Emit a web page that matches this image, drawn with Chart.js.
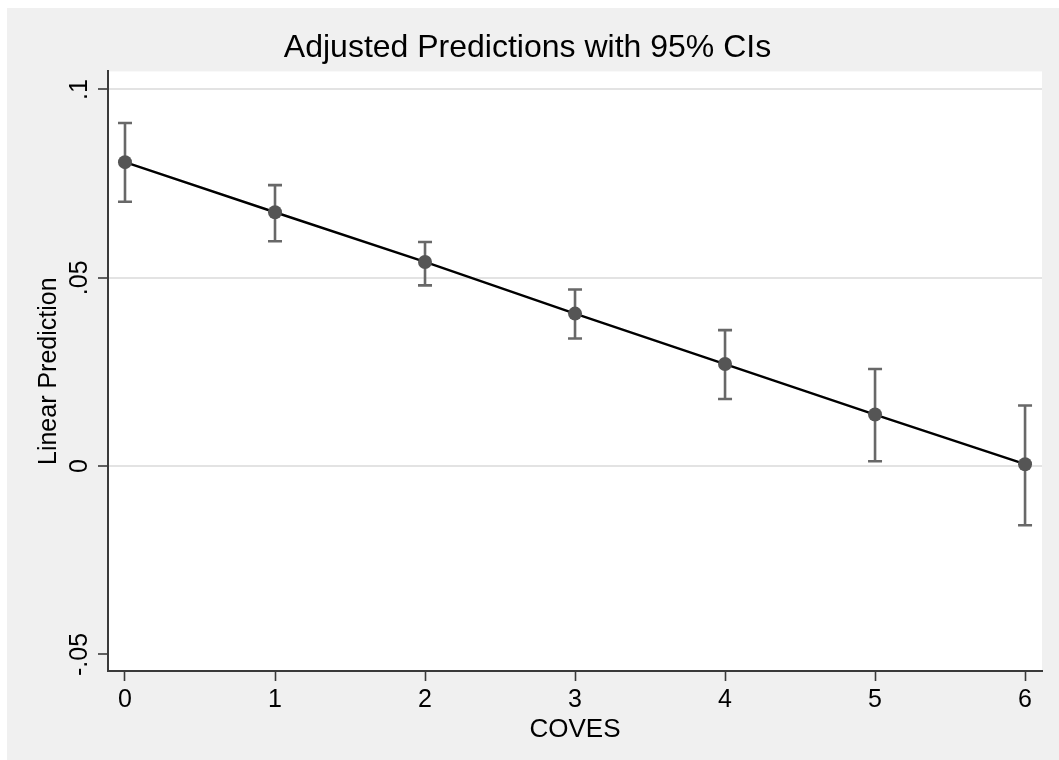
<!DOCTYPE html>
<html>
<head>
<meta charset="utf-8">
<script src="https://cdn.jsdelivr.net/npm/chart.js@4.4.1/dist/chart.umd.min.js"></script>
<style>
  html, body { margin: 0; padding: 0; background: #ffffff; }
  #wrap { width: 1059px; height: 760px; position: relative; }
</style>
</head>
<body>
<div id="wrap"><canvas id="c" width="1059" height="760"></canvas></div>
<script>
// ---- Data ----
const coves = [0, 1, 2, 3, 4, 5, 6];
const prediction = [0.0807, 0.0674, 0.0542, 0.0405, 0.0271, 0.0137, 0.0005];
const ciLower = [0.0702, 0.0597, 0.0480, 0.0339, 0.0178, 0.0013, -0.0157];
const ciUpper = [0.0911, 0.0746, 0.0595, 0.0469, 0.0361, 0.0258, 0.0161];
const xTickValues = [0, 1, 2, 3, 4, 5, 6];
const xTickLabels = ['0', '1', '2', '3', '4', '5', '6'];
const yTickValues = [-0.05, 0, 0.05, 0.1];
const yTickLabels = ['-.05', '0', '.05', '.1'];
const chartTitle = 'Adjusted Predictions with 95% CIs';
const xTitle = 'COVES';
const yTitle = 'Linear Prediction';

const FONT = '"Liberation Sans", Arial, Helvetica, sans-serif';
const AXIS_COLOR = '#3a3a3a';

const backgroundPlugin = {
  id: 'bg',
  beforeDraw(chart) {
    const ctx = chart.ctx;
    const a = chart.chartArea;
    ctx.save();
    ctx.fillStyle = '#ffffff';
    ctx.fillRect(0, 0, chart.width, chart.height);
    ctx.fillStyle = '#f0f0f0';
    ctx.fillRect(7, 8, chart.width - 7, chart.height - 8);
    ctx.fillStyle = '#ffffff';
    ctx.fillRect(a.left, a.top, a.right - a.left, a.bottom - a.top);
    ctx.restore();
  }
};

const errorBarPlugin = {
  id: 'errorBars',
  beforeDatasetsDraw(chart) {
    const ctx = chart.ctx;
    const xs = chart.scales.x, ys = chart.scales.y;
    ctx.save();
    ctx.strokeStyle = '#686868';
    ctx.lineWidth = 2.6;
    const capHalf = 7;
    for (let i = 0; i < coves.length; i++) {
      const px = xs.getPixelForValue(coves[i]);
      const pl = ys.getPixelForValue(ciLower[i]);
      const pu = ys.getPixelForValue(ciUpper[i]);
      ctx.beginPath();
      ctx.moveTo(px, pl); ctx.lineTo(px, pu);
      ctx.moveTo(px - capHalf, pl); ctx.lineTo(px + capHalf, pl);
      ctx.moveTo(px - capHalf, pu); ctx.lineTo(px + capHalf, pu);
      ctx.stroke();
    }
    ctx.restore();
  }
};

new Chart(document.getElementById('c'), {
  type: 'line',
  data: {
    datasets: [{
      label: 'Linear Prediction',
      data: coves.map((c, i) => ({ x: c, y: prediction[i] })),
      borderColor: '#000000',
      borderWidth: 2.4,
      pointRadius: 7,
      pointBackgroundColor: '#555555',
      pointBorderColor: '#555555',
      pointBorderWidth: 0,
      tension: 0,
      fill: false
    }]
  },
  options: {
    responsive: false,
    animation: false,
    devicePixelRatio: 1,
    layout: { padding: { left: 13, right: 17, top: 0, bottom: 0 } },
    plugins: {
      legend: { display: false },
      tooltip: { enabled: false },
      title: {
        display: true,
        text: chartTitle,
        color: '#000000',
        font: { family: FONT, size: 32, weight: 'normal', lineHeight: 1.2 },
        padding: { top: 29, bottom: 4 }
      }
    },
    scales: {
      x: {
        type: 'linear',
        min: -0.1133,
        max: 6.113,
        afterBuildTicks(s) { s.ticks = xTickValues.map(v => ({ value: v })); },
        afterFit(s) { s.height = 89; },
        ticks: {
          color: '#000000',
          font: { family: FONT, size: 25, lineHeight: 1.2 },
          padding: 4,
          maxRotation: 0,
          minRotation: 0,
          autoSkip: false,
          callback(v) { const i = xTickValues.indexOf(v); return i >= 0 ? xTickLabels[i] : ''; }
        },
        grid: {
          drawOnChartArea: false,
          drawTicks: true,
          tickLength: 10,
          tickColor: AXIS_COLOR,
          tickWidth: 1.6
        },
        border: { display: true, color: AXIS_COLOR, width: 2 },
        title: {
          display: true,
          text: xTitle,
          color: '#000000',
          font: { family: FONT, size: 26, lineHeight: 1.2 },
          padding: { top: 0, bottom: 15 }
        }
      },
      y: {
        type: 'linear',
        min: -0.0544,
        max: 0.1048,
        afterBuildTicks(s) { s.ticks = yTickValues.map(v => ({ value: v })); },
        afterFit(s) { s.width = 95; },
        ticks: {
          color: '#000000',
          font: { family: FONT, size: 25, lineHeight: 1.2 },
          padding: -4,
          minRotation: 90,
          maxRotation: 90,
          crossAlign: 'center',
          autoSkip: false,
          callback(v) {
            const i = yTickValues.findIndex(t => Math.abs(t - v) < 1e-9);
            return i >= 0 ? yTickLabels[i] : '';
          }
        },
        grid: {
          drawOnChartArea: true,
          color(ctx) {
            if (ctx.tick && Math.abs(ctx.tick.value + 0.05) < 1e-9) return 'rgba(0,0,0,0)';
            return '#e3e3e3';
          },
          lineWidth: 2,
          drawTicks: true,
          tickLength: 10,
          tickColor: AXIS_COLOR,
          tickWidth: 1.6
        },
        border: { display: true, color: AXIS_COLOR, width: 2 },
        title: {
          display: true,
          text: yTitle,
          color: '#000000',
          font: { family: FONT, size: 25, lineHeight: 1.2 },
          padding: { top: 21, bottom: 0 }
        }
      }
    }
  },
  plugins: [backgroundPlugin, errorBarPlugin]
});
</script>
</body>
</html>
